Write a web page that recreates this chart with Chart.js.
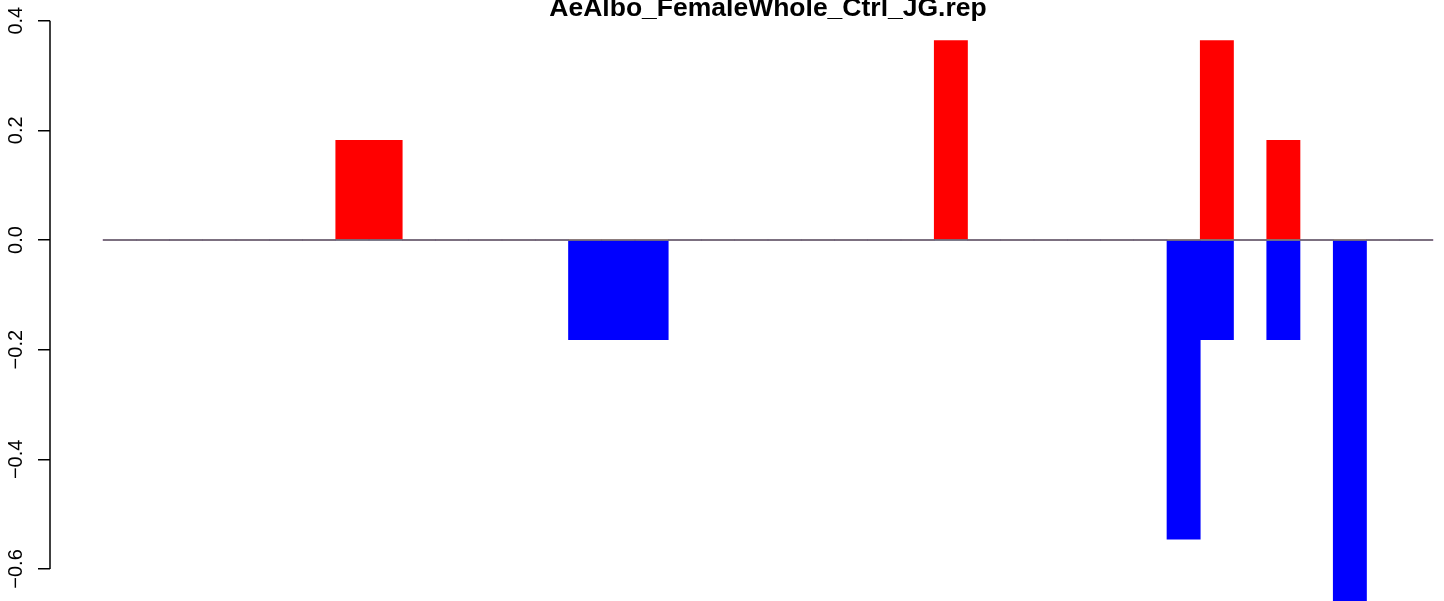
<!DOCTYPE html>
<html>
<head>
<meta charset="utf-8">
<script src="https://cdn.jsdelivr.net/npm/chart.js@4"></script>
<style>
body { margin: 0; background: #fff; }
#wrap { width: 1444px; height: 601px; position: relative; }
</style>
</head>
<body>
<div id="wrap"><canvas id="c"></canvas></div>
<script>
// one value per bin, 40 bins, 0 = empty
var redVals = [0, 0, 0, 0, 0, 0, 0, 0.1818, 0.1818, 0,
	0, 0, 0, 0, 0, 0, 0, 0, 0, 0,
	0, 0, 0, 0, 0, 0.3636, 0, 0, 0, 0,
	0, 0, 0, 0.3636, 0, 0.1818, 0, 0, 0, 0];
var blueVals = [0, 0, 0, 0, 0, 0, 0, 0, 0, 0,
	0, 0, 0, 0, -0.1818, -0.1818, -0.1818, 0, 0, 0,
	0, 0, 0, 0, 0, 0, 0, 0, 0, 0,
	0, 0, -0.5455, -0.1818, 0, -0.1818, 0, -0.7273, 0, 0];
var yTicks = [-0.6, -0.4, -0.2, 0.0, 0.2, 0.4];
var title = "AeAlbo_FemaleWhole_Ctrl_JG.rep";

function toPoints(vals) {
	return vals.map(function(v, i) { return { x: i, y: v }; });
}

var fontFam = "'Liberation Sans', Arial, Helvetica, sans-serif";

// title (cut at top like the original) and the short R style axis line
var rStyle = {
	id: 'rStyle',
	afterDraw: function(chart) {
		var ctx = chart.ctx;
		var xs = chart.scales.x, ys = chart.scales.y;
		ctx.save();
		ctx.strokeStyle = '#000';
		ctx.lineWidth = 1.5;
		ctx.beginPath();
		ctx.moveTo(ys.right, ys.getPixelForValue(yTicks[0]));
		ctx.lineTo(ys.right, ys.getPixelForValue(yTicks[yTicks.length - 1]));
		ctx.stroke();
		ctx.fillStyle = '#000';
		ctx.font = 'bold 26.5px ' + fontFam;
		ctx.textAlign = 'center';
		ctx.textBaseline = 'alphabetic';
		ctx.fillText(title, xs.getPixelForValue((redVals.length - 1) / 2), 16);
		ctx.restore();
	}
};

var ctx = document.getElementById('c');
new Chart(ctx, {
	type: 'bar',
	data: {
		datasets: [
			{
				type: 'line',
				data: [{ x: -0.5, y: 0 }, { x: redVals.length - 0.5, y: 0 }],
				borderColor: '#666',
				borderWidth: 1.3,
				pointRadius: 0,
				order: 0
			},
			{
				data: toPoints(redVals),
				backgroundColor: '#ff0000',
				borderWidth: 0,
				grouped: false,
				barPercentage: 1,
				categoryPercentage: 1,
				order: 2
			},
			{
				data: toPoints(blueVals),
				backgroundColor: '#0000ff',
				borderWidth: 0,
				grouped: false,
				barPercentage: 1,
				categoryPercentage: 1,
				order: 1
			}
		]
	},
	options: {
		responsive: true,
		maintainAspectRatio: false,
		animation: false,
		layout: { padding: 0 },
		plugins: { legend: { display: false }, tooltip: { enabled: false } },
		scales: {
			x: {
				type: 'linear',
				display: false,
				offset: false,
				min: -2.094,
				max: 39.831
			},
			y: {
				min: -0.6584,
				max: 0.4377,
				afterFit: function(s) {
					s.width = 50;
					s.paddingTop = 0;
					s.paddingBottom = 0;
				},
				border: { display: false },
				grid: {
					drawOnChartArea: false,
					drawTicks: true,
					tickLength: 12,
					color: '#000',
					lineWidth: 1.5
				},
				ticks: {
					stepSize: 0.2,
					includeBounds: false,
					minRotation: 90,
					maxRotation: 90,
					crossAlign: 'center',
					padding: 2,
					color: '#000',
					font: { family: fontFam, size: 20 },
					callback: function(v) { return v.toFixed(1).replace('-', '\u2212'); }
				}
			}
		}
	},
	plugins: [rStyle]
});
</script>
</body>
</html>
